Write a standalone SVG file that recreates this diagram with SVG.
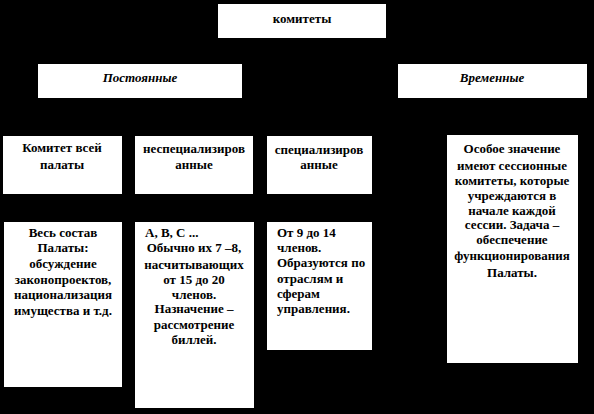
<svg xmlns="http://www.w3.org/2000/svg" width="594" height="414" viewBox="0 0 594 414">
<style>
.box{fill:#fff;stroke:none}
.c{text-anchor:middle}
.i{font-style:italic}
</style>
<rect x="0" y="0" width="594" height="414" fill="#000"/>
<g id="connectors"></g>
<g font-family="Liberation Serif, Times New Roman, DejaVu Serif, serif" font-weight="700" font-size="13" fill="#000">
<g id="komitety">
<rect class="box" x="218" y="4" width="168" height="34"/>
<text class="c" x="302" y="23">комитеты</text>
</g>
<g id="postoyannye">
<rect class="box" x="38" y="64" width="204" height="34"/>
<text class="c i" x="140" y="82">Постоянные</text>
</g>
<g id="vremennye">
<rect class="box" x="398" y="64" width="189" height="34"/>
<text class="c i" x="492" y="82">Временные</text>
</g>
<g id="komitet-vsey">
<rect class="box" x="3" y="136" width="119" height="58"/>
<text class="c" x="62" y="152">Комитет всей</text>
<text class="c" x="62" y="169">палаты</text>
</g>
<g id="nespets">
<rect class="box" x="135" y="136" width="118" height="58"/>
<text class="c" x="194" y="153">неспециализиров</text>
<text class="c" x="194" y="169">анные</text>
</g>
<g id="spets">
<rect class="box" x="267" y="136" width="105" height="58"/>
<text class="c" x="319" y="154">специализиров</text>
<text class="c" x="319" y="169">анные</text>
</g>
<g id="osoboe">
<rect class="box" x="447" y="135" width="131" height="228"/>
<text class="c" x="512" y="153">Особое значение</text>
<text class="c" x="512" y="170">имеют сессионные</text>
<text class="c" x="512" y="185">комитеты, которые</text>
<text class="c" x="512" y="200">учреждаются в</text>
<text class="c" x="512" y="215">начале каждой</text>
<text class="c" x="512" y="229">сессии. Задача –</text>
<text class="c" x="512" y="244">обеспечение</text>
<text class="c" x="512" y="260">функционирования</text>
<text class="c" x="512" y="277">Палаты.</text>
</g>
<g id="ves-sostav">
<rect class="box" x="4" y="222" width="118" height="165"/>
<text class="c" x="63" y="237">Весь состав</text>
<text class="c" x="63" y="252">Палаты:</text>
<text class="c" x="63" y="268">обсуждение</text>
<text class="c" x="63" y="284">законопроектов,</text>
<text class="c" x="63" y="299">национализация</text>
<text class="c" x="63" y="315">имущества и т.д.</text>
</g>
<g id="abc">
<rect class="box" x="135" y="222" width="119" height="186"/>
<text x="145" y="237">А, В, С ...</text>
<text class="c" x="194" y="252">Обычно их 7 –8,</text>
<text class="c" x="194" y="269">насчитывающих</text>
<text class="c" x="194" y="284">от 15 до 20</text>
<text class="c" x="194" y="299">членов.</text>
<text class="c" x="194" y="313">Назначение –</text>
<text class="c" x="194" y="329">рассмотрение</text>
<text class="c" x="194" y="344">биллей.</text>
</g>
<g id="ot9">
<rect class="box" x="267" y="222" width="105" height="128"/>
<text x="277" y="237">От 9 до 14</text>
<text x="277" y="252">членов.</text>
<text x="277" y="267">Образуются по</text>
<text x="277" y="283">отраслям и</text>
<text x="277" y="298">сферам</text>
<text x="277" y="313">управления.</text>
</g>
</g>
</svg>
